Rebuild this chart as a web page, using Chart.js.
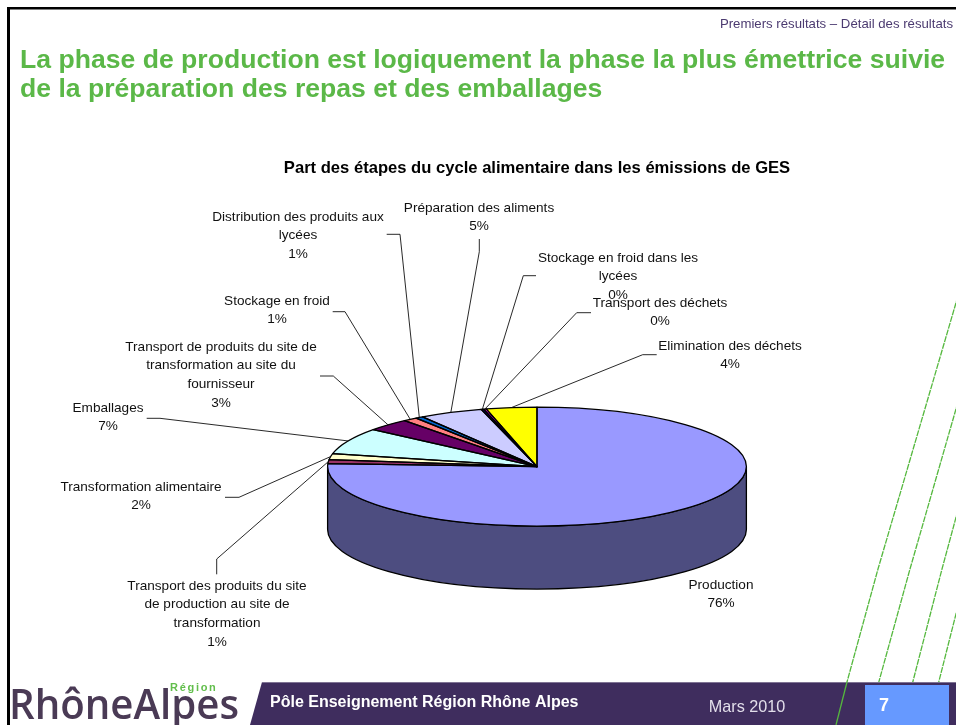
<!DOCTYPE html>
<html lang="fr">
<head>
<meta charset="utf-8">
<title>Part des étapes du cycle alimentaire</title>
<script src="https://cdn.jsdelivr.net/npm/chart.js@4"></script>
<style>
html,body{margin:0;padding:0;background:#fff;overflow:hidden}
canvas{display:block}
</style>
</head>
<body>
<canvas id="c" width="956" height="725"></canvas>
<script>
const categories = [
  ["Production"],
  ["Transport des produits du site","de production au site de","transformation"],
  ["Transformation alimentaire"],
  ["Emballages"],
  ["Transport de produits du site de","transformation au site du","fournisseur"],
  ["Stockage en froid"],
  ["Distribution des produits aux","lycées"],
  ["Préparation des aliments"],
  ["Stockage en froid dans les","lycées"],
  ["Transport des déchets"],
  ["Elimination des déchets"]
];
const shares = [75.8, 1.1, 1.6, 7.2, 3.4, 1.1, 0.6, 4.9, 0.2, 0.2, 3.9];
const sliceColors = ["#9999FF","#993366","#FFFFCC","#CCFFFF","#660066","#FF8080","#0066CC","#CCCCFF","#000080","#FF00FF","#FFFF00"];

const headingLines = ["La phase de production est logiquement la phase la plus émettrice suivie","de la préparation des repas et des emballages"];
const chartHeading = "Part des étapes du cycle alimentaire dans les émissions de GES";
const breadcrumb = "Premiers résultats – Détail des résultats";
const footerText = "Pôle Enseignement Région Rhône Alpes";
const footerDate = "Mars 2010";
const pageNumber = "7";

/* label centre x and first-line centre y, per category */
const labelAnchors = [[721,585],[217,586],[141,487],[108,408],[221,347],[277,301],[298,217],[479,208],[618,258],[660,303],[730,346]];
/* leader line: start beside the label, then bend; the third point comes from the slice */
const leaderRoutes = [
  null,
  [[216.7,574.3],[216.7,559]],
  [[225,497.3],[239,497.3]],
  [[146.7,418.3],[160,418.3]],
  [[320,376],[333.3,376]],
  [[332.7,311.7],[345,311.7]],
  [[386.7,234.3],[400,234.3]],
  [[479.3,239],[479.3,251.7]],
  [[536,275.7],[523.3,275.7]],
  [[591,312.7],[576.7,312.7]],
  [[656.7,354.7],[642.7,354.7]]
];
const greenLines = [
  [[958,296],[878,569],[847,682],[836,725]],
  [[958,402],[910,569],[878,685]],
  [[958,510],[942,569],[912,685]],
  [[958,606],[938,685]]
];

const FONT = '"Liberation Sans", Arial, sans-serif';
const SQUASH = 59.5 / 209.5;
const DEPTH = 63;
const total = shares.reduce((a, b) => a + b, 0);

function darken(hex, f) {
  const n = parseInt(hex.slice(1), 16);
  const c = [n >> 16 & 255, n >> 8 & 255, n & 255].map(v => Math.round(v * f));
  return `rgb(${c[0]},${c[1]},${c[2]})`;
}

const pagePlugin = {
  id: 'page',
  beforeDraw(chart) {
    const ctx = chart.ctx;
    ctx.save();
    ctx.fillStyle = '#fff';
    ctx.fillRect(0, 0, 956, 725);
    // frame
    ctx.fillStyle = '#000';
    ctx.fillRect(7, 7, 949, 2.5);
    ctx.fillRect(7, 7, 3, 718);
    // green strokes
    ctx.strokeStyle = '#55B83E';
    ctx.lineWidth = 1.3;
    ctx.setLineDash([6, 1]);
    greenLines.forEach(pts => {
      ctx.beginPath();
      pts.forEach((p, i) => i ? ctx.lineTo(p[0], p[1]) : ctx.moveTo(p[0], p[1]));
      ctx.stroke();
    });
    ctx.setLineDash([]);
    // footer band
    ctx.fillStyle = '#3F2D5E';
    ctx.beginPath();
    ctx.moveTo(262, 682); ctx.lineTo(956, 682); ctx.lineTo(956, 725); ctx.lineTo(250, 725);
    ctx.closePath(); ctx.fill();
    ctx.fillStyle = '#7F7394';
    ctx.fillRect(262, 682, 694, 1);
    // green stroke crossing the band
    ctx.strokeStyle = '#55B83E';
    ctx.beginPath(); ctx.moveTo(847, 682); ctx.lineTo(836, 725); ctx.stroke();
    // page box
    ctx.fillStyle = '#6699FF';
    ctx.fillRect(865, 685, 84, 40);
    // texts
    ctx.textBaseline = 'middle';
    ctx.textAlign = 'left';
    ctx.fillStyle = '#5BB848';
    ctx.font = `bold 26.6px ${FONT}`;
    ctx.fillText(headingLines[0], 20, 61);
    ctx.fillText(headingLines[1], 20, 90);
    ctx.fillStyle = '#4B3A70';
    ctx.font = `13.2px ${FONT}`;
    ctx.textAlign = 'right';
    ctx.fillText(breadcrumb, 953, 24);
    ctx.textAlign = 'left';
    ctx.fillStyle = '#fff';
    ctx.font = `bold 16px ${FONT}`;
    ctx.fillText(footerText, 270, 703);
    ctx.fillStyle = '#E2DEEA';
    ctx.font = `16.2px ${FONT}`;
    ctx.textAlign = 'center';
    ctx.fillText(footerDate, 747, 708);
    ctx.fillStyle = '#fff';
    ctx.font = `bold 18px ${FONT}`;
    ctx.fillText(pageNumber, 884, 706);
    // logo
    ctx.textAlign = 'left';
    ctx.textBaseline = 'alphabetic';
    ctx.fillStyle = '#4A3A55';
    ctx.font = `600 41px "Open Sans", ${FONT}`;
    ctx.fillText('RhôneAlpes', 9, 719, 230);
    ctx.fillStyle = '#62BE4C';
    ctx.font = `bold 11px ${FONT}`;
    ctx.letterSpacing = '1.7px';
    ctx.fillText('Région', 170, 691);
    ctx.letterSpacing = '0px';
    ctx.restore();
  },
  beforeDatasetsDraw(chart) {
    const ctx = chart.ctx;
    const arcs = chart.getDatasetMeta(0).data;
    const a0 = arcs[0];
    const cx = a0.x, cy = a0.y, r = a0.outerRadius, ry = r * SQUASH;
    ctx.save();
    ctx.lineWidth = 1.3;
    ctx.strokeStyle = '#000';
    arcs.forEach((arc, i) => {
      const s = Math.max(arc.startAngle, 0), e = Math.min(arc.endAngle, Math.PI);
      if (e <= s) return;
      ctx.beginPath();
      ctx.ellipse(cx, cy, r, ry, 0, s, e);
      ctx.ellipse(cx, cy + DEPTH, r, ry, 0, e, s, true);
      ctx.closePath();
      ctx.fillStyle = darken(sliceColors[i], 0.5);
      ctx.fill();
      ctx.stroke();
    });
    ctx.restore();
    ctx.save();
    ctx.translate(cx, cy);
    ctx.scale(1, SQUASH);
    ctx.translate(-cx, -cy);
  },
  afterDatasetsDraw(chart) {
    const ctx = chart.ctx;
    ctx.restore();
    const arcs = chart.getDatasetMeta(0).data;
    const a0 = arcs[0];
    const cx = a0.x, cy = a0.y, r = a0.outerRadius, ry = r * SQUASH;
    ctx.save();
    ctx.lineJoin = 'round';
    ctx.lineWidth = 1.3;
    ctx.strokeStyle = '#000';
    arcs.forEach(arc => {
      ctx.beginPath();
      ctx.moveTo(cx, cy);
      ctx.ellipse(cx, cy, r, ry, 0, arc.startAngle, arc.endAngle);
      ctx.closePath();
      ctx.stroke();
    });
    // leaders
    ctx.lineWidth = 0.9;
    ctx.strokeStyle = '#111';
    leaderRoutes.forEach((route, i) => {
      if (!route) return;
      const mid = (arcs[i].startAngle + arcs[i].endAngle) / 2;
      ctx.beginPath();
      ctx.moveTo(route[0][0], route[0][1]);
      ctx.lineTo(route[1][0], route[1][1]);
      ctx.lineTo(cx + r * Math.cos(mid), cy + ry * Math.sin(mid));
      ctx.stroke();
    });
    // labels
    ctx.fillStyle = '#111';
    ctx.font = `13.6px ${FONT}`;
    ctx.textAlign = 'center';
    ctx.textBaseline = 'middle';
    categories.forEach((lines, i) => {
      const [x, y] = labelAnchors[i];
      lines.concat([Math.round(shares[i] / total * 100) + '%']).forEach((t, k) => {
        ctx.fillText(t, x, y + k * 18.7);
      });
    });
    ctx.restore();
  }
};

new Chart(document.getElementById('c'), {
  type: 'pie',
  data: {
    labels: categories,
    datasets: [{ data: shares, backgroundColor: sliceColors, borderWidth: 0, clip: false, hoverOffset: 0 }]
  },
  options: {
    responsive: false,
    animation: false,
    rotation: 0,
    layout: { padding: { left: 118, right: 0, top: 158, bottom: 49 } },
    events: [],
    plugins: {
      legend: { display: false },
      tooltip: { enabled: false },
      title: {
        display: true,
        text: chartHeading,
        color: '#000',
        font: { family: FONT, size: 16.6, weight: 'bold', lineHeight: 1.2 },
        padding: { top: 0, bottom: 79.3 }
      }
    }
  },
  plugins: [pagePlugin]
});
</script>
</body>
</html>
